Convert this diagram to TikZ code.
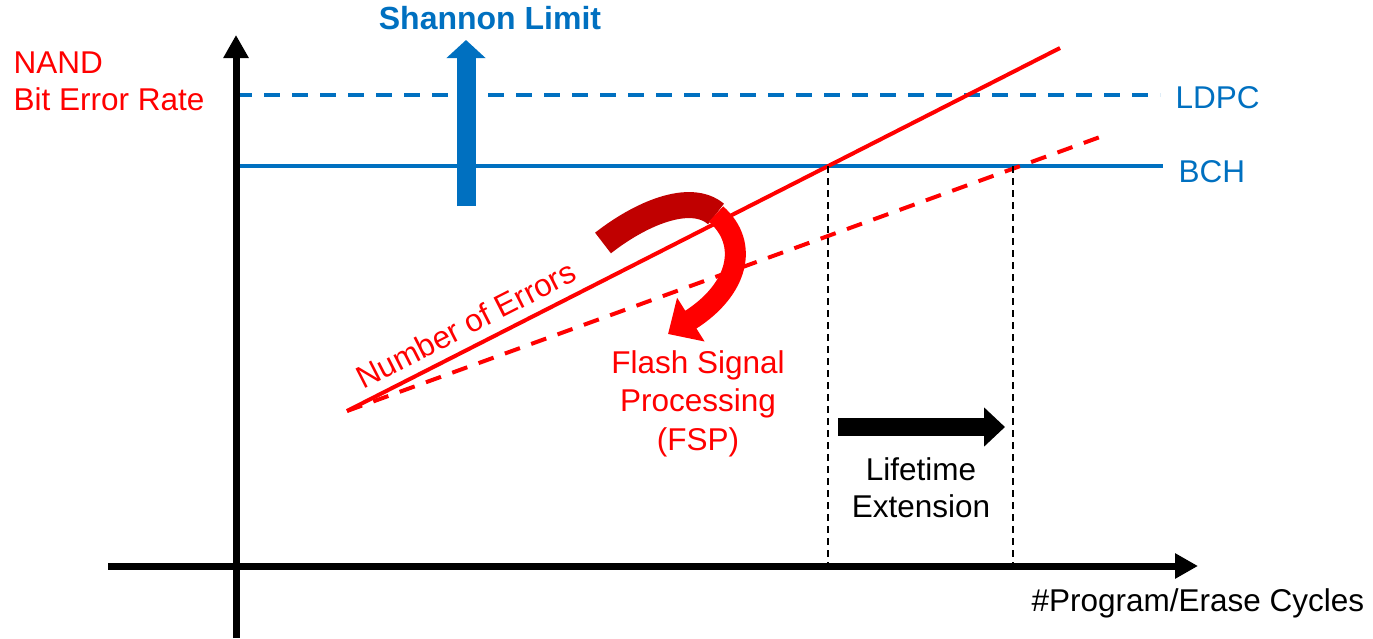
\documentclass[tikz,border=0pt]{standalone}
\usepackage{fontspec}
\setmainfont{Liberation Sans}
\usetikzlibrary{arrows.meta}
\definecolor{eccblue}{RGB}{0,112,192}
\definecolor{fspred}{RGB}{192,0,0}

\begin{document}
\begin{tikzpicture}[x=1pt,y=-1pt,font=\fontsize{31.5}{36}\selectfont,
  axis/.style={line width=7pt,-{Triangle[length=23pt,width=24pt]}},
  thinguide/.style={line width=1.5pt,dash pattern=on 7pt off 5pt},
  wide/.style={dash pattern=on 16pt off 12pt}]
\useasboundingbox (0,0) rectangle (1373,638);
% code limits
\coordinate (ldpcL) at (236,95);
\coordinate (ldpcR) at (1160,95);
\coordinate (bchL) at (236,166);
\coordinate (bchR) at (1163,166);
\draw [eccblue,line width=4pt,wide] (ldpcL)--(ldpcR);
\draw [eccblue,line width=4pt] (bchL)--(bchR);
\node [eccblue,anchor=base west] (ldpc) at (1172,108) {LDPC};
\node [eccblue,anchor=base west] (bch) at (1175,182) {BCH};
% shannon
\coordinate (shA) at (466,206);
\coordinate (shB) at (466,40);
\draw [eccblue,line width=19pt,-{Triangle[length=18pt,width=38pt]}] (shA)--(shB);
\node [eccblue,anchor=base,font=\fontsize{32}{36}\selectfont\bfseries] (shannon) at (490,29) {Shannon Limit};
% errors
\coordinate (e0) at (347,411);
\coordinate (e1) at (1060,48);
\coordinate (e2) at (1100,137);
\draw [red,line width=4pt] (e0)--(e1);
\draw [red,line width=4pt,wide] (e0)--(e2);
\node [red,anchor=base west,rotate=27] (nerr) at (360,391) {Number of Errors};
% lifetime guides
\coordinate (g1) at (828,166);
\coordinate (g2) at (1013,166);
\draw [thinguide] (g1)--(828,566);
\draw [thinguide] (g2)--(1013,566);
\coordinate (lA) at (838,427);
\coordinate (lB) at (1005,427);
\draw [line width=18pt,-{Triangle[length=21pt,width=38pt]}] (lA)--(lB);
\node [anchor=base] (life1) at (921,480) {Lifetime};
\node [anchor=base] (life2) at (921,517) {Extension};
% FSP arrow
\coordinate (fA) at (603,243);
\coordinate (fB) at (716,214);
\coordinate (fC) at (668,334);
\draw [fspred,line width=26pt] (fA) .. controls (640,214) and (690,192) .. (fB);
\draw [red,line width=21pt,-{Triangle[length=27pt,width=50pt]}] (fB) .. controls (750,244) and (738,290) .. (fC);
\node [red,anchor=base] (fsp1) at (698,373) {Flash Signal};
\node [red,anchor=base] (fsp2) at (698,411) {Processing};
\node [red,anchor=base] (fsp3) at (698,450) {(FSP)};
% axes
\coordinate (yA) at (236,638);
\coordinate (yB) at (236,35);
\coordinate (xA) at (108,566);
\coordinate (xB) at (1198,566);
\draw [axis] (yA)--(yB);
\draw [axis] (xA)--(xB);
\node [red,anchor=base west] (nand) at (10,73) {NAND};
\node [red,anchor=base west] (ber) at (10,110) {Bit Error Rate};
\node [anchor=base west] (pe) at (1028,611) {\#Program/Erase Cycles};
\end{tikzpicture}
\end{document}
